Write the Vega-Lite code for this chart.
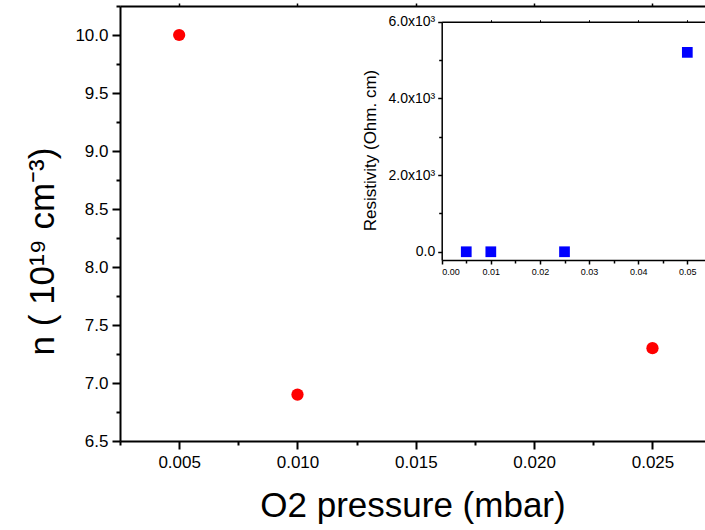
{
  "$schema": "https://vega.github.io/schema/vega-lite/v6.json",
  "width": 585,
  "height": 435,
  "autosize": "none",
  "padding": {"left": 120, "top": 6, "right": 0, "bottom": 89},
  "background": "white",
  "config": {
    "view": {"stroke": null},
    "font": "Liberation Sans",
    "axis": {
      "grid": false,
      "domainColor": "black",
      "tickColor": "black",
      "labelColor": "black",
      "titleColor": "black",
      "labelFont": "Liberation Sans",
      "titleFont": "Liberation Sans",
      "titleFontWeight": "normal"
    }
  },
  "datasets": {
    "main": [
      {"p": 0.005, "n": 10.0},
      {"p": 0.010, "n": 6.9},
      {"p": 0.025, "n": 7.3}
    ],
    "inset": [
      {"p": 0.005, "r": 0},
      {"p": 0.010, "r": 0},
      {"p": 0.025, "r": 0},
      {"p": 0.050, "r": 5200}
    ]
  },
  "layer": [
    {
      "data": {"name": "main"},
      "mark": {"type": "point", "shape": "circle", "filled": true, "color": "#ff0000", "opacity": 1, "size": 150},
      "encoding": {
        "x": {
          "field": "p", "type": "quantitative",
          "scale": {"domain": [0.0025, 0.02722], "nice": false, "zero": false},
          "axis": {
            "orient": "bottom",
            "title": "O2 pressure (mbar)",
            "titleFontSize": 35,
            "titlePadding": 18,
            "values": [0.0025, 0.005, 0.0075, 0.01, 0.0125, 0.015, 0.0175, 0.02, 0.0225, 0.025],
            "labelExpr": "abs(datum.value*200 - round(datum.value*200)) < 1e-6 ? format(datum.value, '.3f') : ''",
            "labelFontSize": 17,
            "labelPadding": 5,
            "domainWidth": 2,
            "tickWidth": 2,
            "tickSize": {"condition": {"test": "abs(datum.value*200 - round(datum.value*200)) < 1e-6", "value": 8}, "value": 4}
          }
        },
        "y": {
          "field": "n", "type": "quantitative",
          "scale": {"domain": [6.5, 10.25], "nice": false, "zero": false},
          "axis": {
            "orient": "left",
            "title": "n ( 10¹⁹  cm⁻³)",
            "titleFontSize": 35,
            "titlePadding": 14,
            "titleY": 245,
            "titleAlign": "center",
            "values": [6.5, 6.75, 7.0, 7.25, 7.5, 7.75, 8.0, 8.25, 8.5, 8.75, 9.0, 9.25, 9.5, 9.75, 10.0, 10.25],
            "labelExpr": "abs(datum.value*2 - round(datum.value*2)) < 1e-6 ? format(datum.value, '.1f') : ''",
            "labelFontSize": 17,
            "labelPadding": 4,
            "domainWidth": 2,
            "tickWidth": 2,
            "tickSize": {"condition": {"test": "abs(datum.value*2 - round(datum.value*2)) < 1e-6", "value": 8}, "value": 4}
          }
        }
      }
    },
    {
      "data": {"name": "main"},
      "mark": {"type": "point", "opacity": 0},
      "encoding": {
        "x": {
          "field": "p", "type": "quantitative",
          "scale": {"domain": [0.0025, 0.02722], "nice": false, "zero": false},
          "axis": {
            "orient": "top",
            "title": null,
            "labels": false,
            "values": [0.005, 0.01, 0.015, 0.02, 0.025],
            "domainWidth": 2,
            "tickWidth": 1.5,
            "tickSize": 3
          }
        },
        "y": {"field": "n", "type": "quantitative", "axis": null}
      }
    },
    {
      "data": {"name": "inset"},
      "mark": {"type": "square", "color": "#0000ff", "opacity": 1, "size": 115},
      "encoding": {
        "x": {
          "field": "p", "type": "quantitative",
          "scale": {"domain": [0, 0.0536], "range": [321.7, 585], "nice": false, "zero": false},
          "axis": {
            "orient": "bottom",
            "offset": -181,
            "title": null,
            "values": [0, 0.005, 0.01, 0.015, 0.02, 0.025, 0.03, 0.035, 0.04, 0.045, 0.05],
            "labelExpr": "abs(datum.value*100 - round(datum.value*100)) < 1e-6 ? format(datum.value, '.2f') : ''",
            "labelFontSize": 9,
            "labelPadding": 3,
            "domainWidth": 1.5,
            "tickWidth": 1.5,
            "tickSize": {"condition": {"test": "abs(datum.value*100 - round(datum.value*100)) < 1e-6", "value": 4}, "value": 3}
          }
        },
        "y": {
          "field": "r", "type": "quantitative",
          "scale": {"domain": [-215, 6000], "range": [254, 15.7], "nice": false, "zero": false},
          "axis": {
            "orient": "left",
            "offset": -321.7,
            "title": "Resistivity (Ohm. cm)",
            "titleFontSize": 17,
            "titlePadding": 9,
            "titleY": 144,
            "titleAlign": "center",
            "values": [0, 1000, 2000, 3000, 4000, 5000, 6000],
            "labelExpr": "datum.value == 0 ? '0.0' : (datum.value % 2000 == 0 ? format(datum.value/1000, '.1f') + 'x10³' : '')",
            "labelFontSize": 14,
            "labelPadding": 3,
            "domainWidth": 1.5,
            "tickWidth": 1.5,
            "tickSize": {"condition": {"test": "datum.value % 2000 == 0", "value": 4}, "value": 3}
          }
        }
      }
    },
    {
      "data": {"name": "inset"},
      "mark": {"type": "point", "opacity": 0},
      "encoding": {
        "x": {
          "field": "p", "type": "quantitative",
          "scale": {"domain": [0, 0.0536], "range": [321.7, 585], "nice": false, "zero": false},
          "axis": {
            "orient": "top",
            "offset": -15.7,
            "title": null,
            "labels": false,
            "values": [0.01, 0.02, 0.03, 0.04, 0.05],
            "domainWidth": 1.5,
            "tickWidth": 1,
            "tickSize": 2
          }
        },
        "y": {"field": "r", "type": "quantitative", "axis": null}
      }
    }
  ],
  "resolve": {"scale": {"x": "independent", "y": "independent"}}
}
